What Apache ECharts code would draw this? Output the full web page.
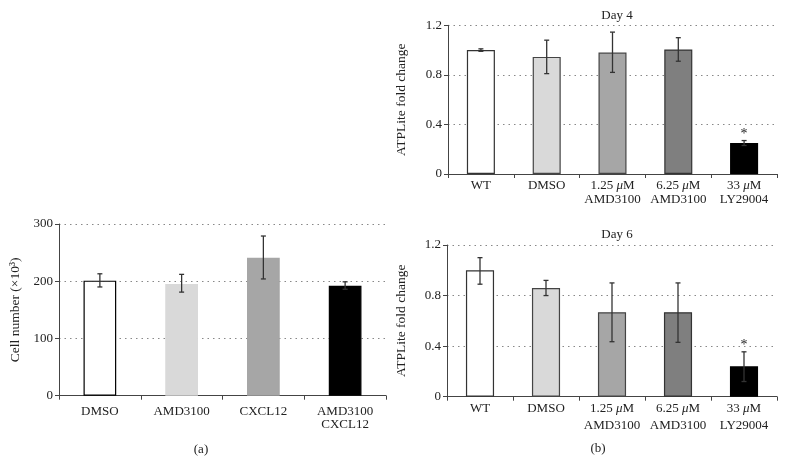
<!DOCTYPE html>
<html><head><meta charset="utf-8">
<script src="https://cdn.jsdelivr.net/npm/echarts@6/dist/echarts.min.js"></script>
<style>html,body{margin:0;padding:0;background:#fff}#c{width:785px;height:460px}</style>
</head><body><div id="c"></div>
<script>
const catsA = ['DMSO', 'AMD3100', 'CXCL12', 'AMD3100\nCXCL12'];
const valsA = [201, 195, 241, 192];
const errHiA = [213, 212, 279, 199];
const errLoA = [190, 181, 204, 186];
const colorsA = ['#ffffff', '#d9d9d9', '#a6a6a6', '#000000'];
const bordersA = ['#000000', '#d9d9d9', '#a6a6a6', '#000000'];
const ticksA = [0, 100, 200, 300];

const catsB = ['WT', 'DMSO', '1.25 μM\nAMD3100', '6.25 μM\nAMD3100', '33 μM\nLY29004'];
const day4 = [1.0, 0.945, 0.98, 1.005, 0.25];
const day4Hi = [1.01, 1.08, 1.145, 1.10, 0.27];
const day4Lo = [0.99, 0.81, 0.82, 0.91, 0.23];
const day6 = [1.0, 0.86, 0.668, 0.668, 0.24];
const day6Hi = [1.10, 0.92, 0.90, 0.90, 0.355];
const day6Lo = [0.89, 0.80, 0.435, 0.43, 0.12];
const colorsB = ['#ffffff', '#d9d9d9', '#a6a6a6', '#7f7f7f', '#000000'];
const bordersB = ['#333333', '#444444', '#444444', '#333333', '#000000'];
const starB = ['', '', '', '', '*'];
const ticksB = [0, 0.4, 0.8, 1.2];

const FONT = '"Liberation Serif", "DejaVu Serif", serif';
const chart = echarts.init(document.getElementById('c'));

function muFmt(v) { return v.replace('μ', '{i|μ}'); }

function xAxis(gi, cats, lh, margin) {
  return {
    type: 'category', gridIndex: gi, data: cats,
    axisLine: { lineStyle: { color: '#444', width: 1 } },
    axisTick: { show: true, length: 4, lineStyle: { color: '#444' } },
    axisLabel: {
      interval: 0,
      color: '#222', fontFamily: FONT, fontSize: 13, margin: margin, lineHeight: lh,
      formatter: muFmt,
      rich: { i: { fontStyle: 'italic', fontFamily: FONT, fontSize: 13, color: '#222', lineHeight: lh } }
    }
  };
}
function yAxis(gi, ticks, interval, name, gap, fmt) {
  return {
    type: 'value', gridIndex: gi, min: ticks[0], max: ticks[ticks.length - 1], interval: interval,
    name: name, nameLocation: 'middle', nameGap: gap, nameRotate: 90,
    nameTextStyle: { fontFamily: FONT, fontSize: 13.5, color: '#222' },
    axisLine: { show: true, lineStyle: { color: '#444' } },
    axisTick: { show: true, length: 4, lineStyle: { color: '#444' } },
    axisLabel: { fontFamily: FONT, fontSize: 13, color: '#222', margin: 6, formatter: fmt },
    splitLine: { show: true, lineStyle: { type: [1.5, 4], color: '#888', width: 1 } }
  };
}
function bars(gi, vals, colors, borders, bw) {
  return {
    type: 'bar', xAxisIndex: gi, yAxisIndex: gi, barWidth: bw, silent: true,
    data: vals.map((v, i) => ({ value: v, itemStyle: { color: colors[i], borderColor: borders[i], borderWidth: 1.2 } }))
  };
}
function errs(gi, hi, lo) {
  return {
    type: 'custom', xAxisIndex: gi, yAxisIndex: gi, silent: true, z: 5,
    data: hi.map((h, i) => [i, h, lo[i]]),
    renderItem: function (params, api) {
      const top = api.coord([api.value(0), api.value(1)]);
      const bot = api.coord([api.value(0), api.value(2)]);
      const w = 2.5;
      const st = { stroke: '#333', lineWidth: 1.3 };
      return { type: 'group', children: [
        { type: 'line', shape: { x1: top[0], y1: top[1], x2: bot[0], y2: bot[1] }, style: st },
        { type: 'line', shape: { x1: top[0] - w, y1: top[1], x2: top[0] + w, y2: top[1] }, style: st },
        { type: 'line', shape: { x1: bot[0] - w, y1: bot[1], x2: bot[0] + w, y2: bot[1] }, style: st }
      ]};
    }
  };
}
function stars(gi, hi, marks) {
  return {
    type: 'custom', xAxisIndex: gi, yAxisIndex: gi, silent: true, z: 6,
    data: hi.map((h, i) => [i, h, marks[i]]),
    renderItem: function (params, api) {
      const i = api.value(0);
      const m = marks[i];
      if (!m) return null;
      const p = api.coord([i, api.value(1)]);
      return { type: 'text', x: p[0], y: p[1] + 1, style: { text: m, fontFamily: FONT, fontSize: 14, fill: '#222', align: 'center', verticalAlign: 'bottom' } };
    }
  };
}

const option = {
  animation: false,
  title: [
    { text: 'Day 4', left: 612, top: 4, textAlign: 'center', textStyle: { fontFamily: FONT, fontSize: 13, fontWeight: 'normal', color: '#222' } },
    { text: 'Day 6', left: 612, top: 223, textAlign: 'center', textStyle: { fontFamily: FONT, fontSize: 13, fontWeight: 'normal', color: '#222' } },
    { text: '(a)', left: 196, top: 438, textAlign: 'center', textStyle: { fontFamily: FONT, fontSize: 13, fontWeight: 'normal', color: '#222' } },
    { text: '(b)', left: 593, top: 437, textAlign: 'center', textStyle: { fontFamily: FONT, fontSize: 13, fontWeight: 'normal', color: '#222' } }
  ],
  grid: [
    { left: 59, right: 399, top: 224, bottom: 64.3 },
    { left: 448, right: 8, top: 25.3, bottom: 286 },
    { left: 447, right: 8, top: 245, bottom: 63.3 }
  ],
  xAxis: [
    xAxis(0, catsA, 12.5, 10),
    xAxis(1, catsB, 14, 5),
    xAxis(2, catsB, 16.5, 4)
  ],
  yAxis: [
    yAxis(0, ticksA, 100, 'Cell number (×10³)', 37, v => String(v)),
    yAxis(1, ticksB, 0.4, 'ATPLite fold change', 40, v => v === 0 ? '0' : v.toFixed(1)),
    yAxis(2, ticksB, 0.4, 'ATPLite fold change', 39, v => v === 0 ? '0' : v.toFixed(1))
  ],
  series: [
    bars(0, valsA, colorsA, bordersA, '40%'),
    errs(0, errHiA, errLoA),
    bars(1, day4, colorsB, bordersB, '42.6%'),
    errs(1, day4Hi, day4Lo),
    stars(1, day4Hi, starB),
    bars(2, day6, colorsB, bordersB, '42.6%'),
    errs(2, day6Hi, day6Lo),
    stars(2, day6Hi, starB)
  ]
};
chart.setOption(option);
</script></body></html>
